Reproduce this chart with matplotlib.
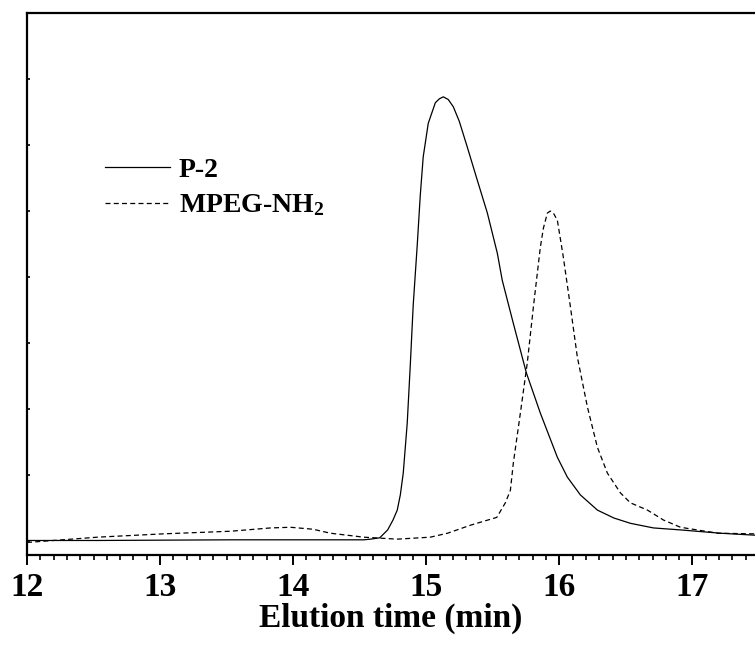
import matplotlib
matplotlib.use("Agg")
import matplotlib.pyplot as plt
from matplotlib.ticker import MultipleLocator

plt.rcParams["font.family"] = ["Liberation Serif", "DejaVu Serif"]
plt.rcParams["font.weight"] = "bold"
plt.rcParams["mathtext.fontset"] = "custom"
plt.rcParams["mathtext.rm"] = "Liberation Serif:bold"
plt.rcParams["mathtext.default"] = "rm"

# P-2 trace (elution time in min, detector signal in arbitrary units)
p2_t = [12.000, 12.530, 13.530, 14.280, 14.530, 14.580, 14.650, 14.710, 14.750,
        14.782, 14.805, 14.827, 14.857, 14.880, 14.902, 14.932, 14.955, 14.977,
        15.015, 15.068, 15.098, 15.128, 15.165, 15.203, 15.248, 15.308, 15.383,
        15.459, 15.534, 15.571, 15.654, 15.752, 15.857, 15.985, 16.060, 16.158,
        16.286, 16.410, 16.534, 16.707, 16.910, 17.210, 17.470]
p2_y = [0.01, 0.01, 0.02, 0.02, 0.02, 0.03, 0.05, 0.17, 0.32,
        0.47, 0.70, 1.03, 1.79, 2.67, 3.58, 4.48, 5.24, 5.82,
        6.33, 6.64, 6.70, 6.73, 6.69, 6.58, 6.36, 5.97, 5.47,
        4.97, 4.36, 3.95, 3.30, 2.55, 1.94, 1.27, 0.97, 0.70,
        0.47, 0.35, 0.27, 0.20, 0.17, 0.12, 0.09]

# MPEG-NH2 trace
mpeg_t = [12.000, 12.530, 13.020, 13.530, 13.830, 13.980, 14.150, 14.280, 14.530,
          14.780, 15.030, 15.160, 15.330, 15.530, 15.594, 15.632, 15.654, 15.707,
          15.759, 15.805, 15.857, 15.880, 15.910, 15.932, 15.955, 15.985, 16.030,
          16.083, 16.135, 16.211, 16.286, 16.361, 16.459, 16.534, 16.662, 16.782,
          16.910, 17.190, 17.470]
mpeg_y = [-0.02, 0.06, 0.11, 0.15, 0.20, 0.21, 0.18, 0.12, 0.06,
          0.03, 0.06, 0.12, 0.24, 0.36, 0.58, 0.77, 1.18, 1.94,
          2.70, 3.55, 4.45, 4.74, 4.97, 5.00, 4.97, 4.86, 4.30,
          3.55, 2.79, 2.03, 1.42, 1.03, 0.73, 0.58, 0.47, 0.32,
          0.21, 0.12, 0.11]

fig = plt.figure(figsize=(7.55, 6.48), dpi=100)
ax = fig.add_axes([27 / 755, 93 / 648, 728 / 755, 542 / 648])

ax.plot(p2_t, p2_y, color="black", lw=0.9, label="P-2")
ax.plot(mpeg_t, mpeg_y, color="black", lw=0.9, linestyle=(0, (4, 2.6)),
        label="MPEG-NH$_2$")

ax.set_xlim(12, 17.47)
ax.set_ylim(-0.21, 8.0)

for s in ["left", "top", "bottom"]:
    ax.spines[s].set_linewidth(1.6)
ax.spines["right"].set_visible(False)

ax.xaxis.set_major_locator(MultipleLocator(1))
ax.xaxis.set_minor_locator(MultipleLocator(0.1))
ax.tick_params(axis="x", which="major", direction="out", length=7, width=1.4,
               labelsize=24, pad=5)
ax.tick_params(axis="x", which="minor", direction="out", length=3.6, width=1.2)
ax.set_yticks(range(0, 8))
ax.tick_params(axis="y", direction="in", length=2.5, width=1.2, labelleft=False)

ax.set_xlabel("Elution time (min)", fontsize=24, fontweight="bold", labelpad=0)

ax.legend(loc="upper left", bbox_to_anchor=(0.107, 0.734), frameon=False,
          fontsize=20, handlelength=2.35, handletextpad=0.3, labelspacing=0.35,
          borderpad=0, borderaxespad=0)

fig.savefig("out.png", dpi=100)
